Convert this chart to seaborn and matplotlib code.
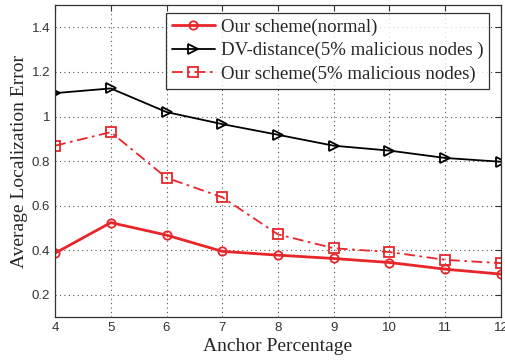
import numpy as np
import pandas as pd
import matplotlib
matplotlib.use("Agg")
import matplotlib.pyplot as plt
import seaborn as sns

# ── data ──────────────────────────────────────────────────────────────────
anchor_pct = [4, 5, 6, 7, 8, 9, 10, 11, 12]
err_normal = [0.387, 0.524, 0.468, 0.395, 0.378, 0.363, 0.345, 0.315, 0.293]
err_dv_mal = [1.105, 1.126, 1.020, 0.966, 0.918, 0.869, 0.847, 0.814, 0.797]
err_our_mal = [0.869, 0.930, 0.725, 0.638, 0.471, 0.409, 0.392, 0.357, 0.342]

labels = ["Our scheme(normal)",
          "DV-distance(5% malicious nodes )",
          "Our scheme(5% malicious nodes)"]

sns.set_style("white")
plt.rcParams["font.family"] = ["Liberation Sans", "DejaVu Sans"]

fig = plt.figure(figsize=(5.05, 3.62), dpi=100)
ax = fig.add_axes([0.109, 0.124, 0.883, 0.862])

red = "#e8262a"
styles = [
    dict(color=red, marker="o", linestyle="-", linewidth=2.0, markersize=6),
    dict(color="black", marker=">", linestyle="-", linewidth=1.3, markersize=7),
    dict(color=red, marker="s", linestyle=(0, (6, 2.5, 1.5, 2.5)), linewidth=1.3, markersize=7),
]

for vals, lab, st in zip([err_normal, err_dv_mal, err_our_mal], labels, styles):
    df = pd.DataFrame({"x": anchor_pct, "y": vals})
    sns.lineplot(data=df, x="x", y="y", ax=ax, label=lab,
                 color=st["color"], marker=st["marker"], linestyle=st["linestyle"],
                 linewidth=st["linewidth"], markersize=st["markersize"],
                 markerfacecolor="none", markeredgecolor=st["color"],
                 markeredgewidth=1.3)

ax.set_xlim(4, 12)
ax.set_ylim(0.1, 1.5)
ax.set_xticks(anchor_pct)
ax.set_yticks([0.2, 0.4, 0.6, 0.8, 1.0, 1.2, 1.4])
ax.set_yticklabels(["0.2", "0.4", "0.6", "0.8", "1", "1.2", "1.4"])
ax.tick_params(direction="in", top=True, right=True, labelsize=9.5,
               colors="#333333", length=4, width=0.8)
ax.grid(True, linestyle=(0, (1, 3)), color="#555555", linewidth=0.8)
for sp in ax.spines.values():
    sp.set_color("#333333")
    sp.set_linewidth(0.9)

serif = ["Liberation Serif", "DejaVu Serif"]
ax.set_xlabel("Anchor Percentage", family=serif, fontsize=14, labelpad=3)
ax.set_ylabel("Average Localization Error", family=serif, fontsize=14, labelpad=3)

leg = ax.legend(loc="upper left", bbox_to_anchor=(0.249, 0.975),
                prop={"family": serif, "size": 13.6}, frameon=True, fancybox=False,
                borderpad=0.3, labelspacing=0.33, handlelength=2.3,
                handletextpad=0.3, borderaxespad=0)
leg.get_frame().set_edgecolor("black")
leg.get_frame().set_linewidth(0.9)

fig.savefig("out.png", dpi=100)
